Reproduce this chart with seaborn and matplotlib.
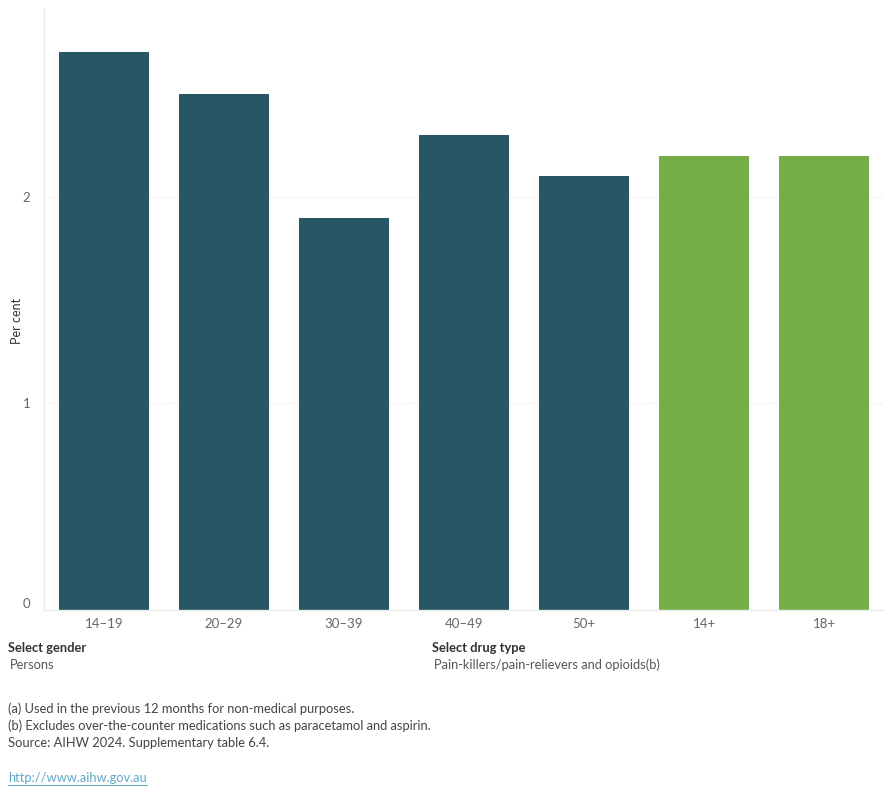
import matplotlib
matplotlib.use('Agg')
import matplotlib.pyplot as plt
import seaborn as sns
import pandas as pd

# Dados do gráfico
age_groups = ['14–19', '20–29', '30–39', '40–49', '50+', '14+', '18+']
per_cent = [2.7, 2.5, 1.9, 2.3, 2.1, 2.2, 2.2]
group_type = ['age', 'age', 'age', 'age', 'age', 'total', 'total']

df = pd.DataFrame({'Age': age_groups, 'Per cent': per_cent, 'Type': group_type})

sns.set_style('white')
plt.rcParams['font.family'] = ['Lato', 'DejaVu Sans']

fig = plt.figure(figsize=(8.9, 8), dpi=100)
ax = fig.add_axes([44 / 890, 190 / 800, 840 / 890, 602 / 800])

palette = {'age': '#285664', 'total': '#75AD48'}
sns.barplot(data=df, x='Age', y='Per cent', hue='Type', palette=palette,
            dodge=False, width=0.75, legend=False, ax=ax, saturation=1, linewidth=0)

ax.set_xlim(-0.5, 6.5)
ax.set_ylim(0, 2.915)
ax.set_yticks([0, 1, 2])
ax.set_xlabel('')
ax.set_ylabel('Per cent', fontsize=9, color='#333333')

# Grade pontilhada
for y in [1, 2]:
    ax.axhline(y, color='#e3e3e3', linestyle=(0, (1, 2)), linewidth=0.9, zorder=0)

for s in ['top', 'right']:
    ax.spines[s].set_visible(False)
for s in ['left', 'bottom']:
    ax.spines[s].set_color('#ebebeb')
    ax.spines[s].set_linewidth(1)

ax.tick_params(axis='x', length=0, labelsize=9.5, labelcolor='#666666', pad=6)
ax.tick_params(axis='y', length=0, labelsize=9.5, labelcolor='#666666', pad=10)
ax.set_xticks([i - 0.5 for i in range(8)], minor=True)
ax.tick_params(axis='x', which='minor', length=5, color='#ebebeb', direction='out')
ax.get_yticklabels()[0].set_va('bottom')
ax.yaxis.set_label_coords(-21 / 840, 0.48)

# Textos de rodapé
fs = 9.3
fig.text(8 / 890, 1 - 648 / 800, 'Select gender', fontsize=fs, fontweight='bold',
         color='#333333', va='center')
fig.text(10 / 890, 1 - 665 / 800, 'Persons', fontsize=fs, color='#555555', va='center')
fig.text(432 / 890, 1 - 648 / 800, 'Select drug type', fontsize=fs, fontweight='bold',
         color='#333333', va='center')
fig.text(434 / 890, 1 - 665 / 800, 'Pain-killers/pain-relievers and opioids(b)', fontsize=fs,
         color='#555555', va='center')

notes = ['(a) Used in the previous 12 months for non-medical purposes.',
         '(b) Excludes over-the-counter medications such as paracetamol and aspirin.',
         'Source: AIHW 2024. Supplementary table 6.4.']
for i, t in enumerate(notes):
    fig.text(8 / 890, 1 - (709 + i * 17) / 800, t, fontsize=fs, color='#444444', va='center')

link = fig.text(8 / 890, 1 - 778 / 800, 'http://www.aihw.gov.au', fontsize=fs,
                color='#5fa8c8', va='center')
fig.canvas.draw()
bb = link.get_window_extent()
fig.add_artist(plt.Line2D([bb.x0 / fig.bbox.width, bb.x1 / fig.bbox.width],
                          [(bb.y0 - 1) / fig.bbox.height] * 2, color='#5fa8c8', linewidth=0.7))

fig.savefig('out.png', dpi=100)
